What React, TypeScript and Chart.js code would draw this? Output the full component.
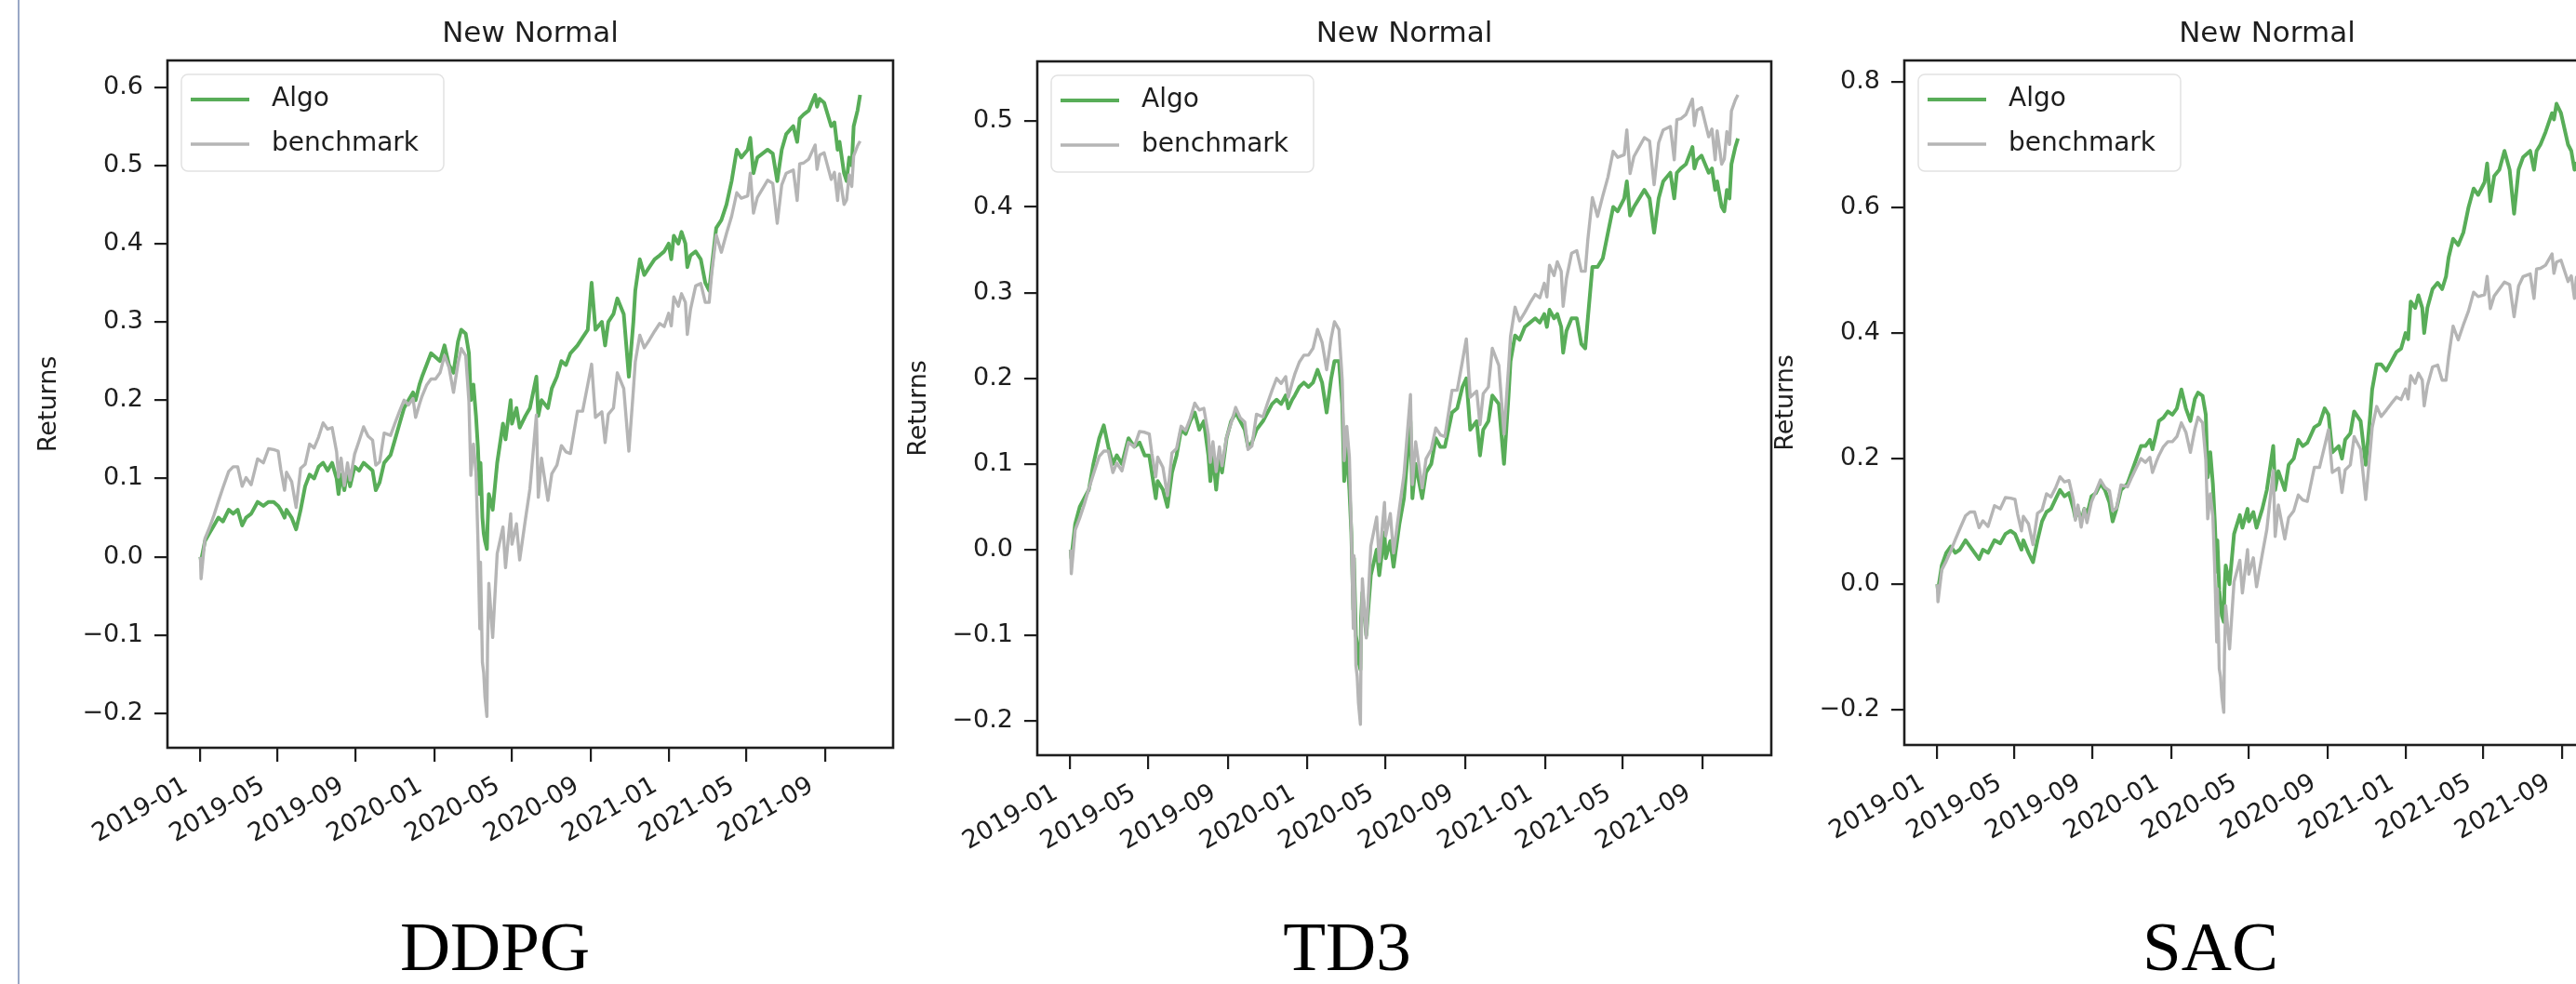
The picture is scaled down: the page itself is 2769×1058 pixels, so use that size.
import React, { useEffect, useRef } from 'react';
import { Chart, registerables } from 'chart.js';

Chart.register(...registerables);

// ---------------- data (calendar days since 2019-01-01) ----------------
const dayOffsets = [
  1, 2, 8, 15, 22, 29, 36, 45, 52, 59, 66, 72, 80, 90, 99, 107, 115, 122, 126, 132,
  135, 143, 150, 157, 164, 171, 178, 185, 192, 199, 206, 213, 216, 220, 225, 230, 234, 241, 248, 255,
  262, 269, 274, 280, 287, 297, 304, 311, 318, 325, 332, 336, 342, 346, 353, 360,
  367, 374, 381, 388, 395, 402, 407, 414, 419, 422, 426, 430, 433, 436, 437, 440, 442, 444, 447, 448,
  450, 456, 463, 472, 476, 484, 486, 493, 498, 507, 514, 524, 527, 532, 542, 548, 556, 563, 570, 577,
  588, 596, 604, 610, 616, 626, 631, 636, 644, 650, 660, 668, 675, 678, 685, 692, 700, 708, 716, 723,
  730,
  734, 738, 745, 750, 756, 759, 764, 772, 780, 787, 793, 797, 804, 812, 820, 828, 836, 843, 853, 857,
  862, 868, 876, 884, 892, 899, 906, 913, 924, 930, 934, 940, 948, 958, 961, 965, 972, 983, 988, 993,
  996, 1003, 1007, 1011, 1015, 1018, 1024, 1028,
];

const benchmark = [
  0.000, -0.028, 0.023, 0.037, 0.053, 0.071, 0.088, 0.109, 0.115, 0.115,
  0.090, 0.101, 0.092, 0.125, 0.120, 0.138, 0.137, 0.135, 0.112, 0.085,
  0.108, 0.096, 0.063, 0.113, 0.118, 0.144, 0.139, 0.153, 0.171, 0.163,
  0.165, 0.134, 0.102, 0.126, 0.091, 0.120, 0.098, 0.131, 0.148, 0.166,
  0.154, 0.149, 0.117, 0.121, 0.158, 0.155, 0.171, 0.186, 0.200, 0.194,
  0.202, 0.178, 0.195, 0.205, 0.219, 0.227,
  0.227, 0.235, 0.257, 0.242, 0.210, 0.247, 0.266, 0.257, 0.198, 0.104,
  0.144, 0.108, 0.022, -0.092, -0.007, -0.135, -0.148, -0.179, -0.204, -0.113,
  -0.034, -0.103, 0.004, 0.038, -0.014, 0.055, 0.016, 0.042, -0.004, 0.048,
  0.087, 0.181, 0.076, 0.126, 0.072, 0.106, 0.117, 0.142, 0.134, 0.132,
  0.186, 0.186, 0.220, 0.246, 0.178, 0.185, 0.146, 0.182, 0.190, 0.235,
  0.215, 0.135, 0.213, 0.249, 0.283, 0.267, 0.277, 0.288, 0.298, 0.294,
  0.311,
  0.295, 0.332, 0.320, 0.336, 0.325, 0.284, 0.316, 0.346, 0.349, 0.325,
  0.325, 0.362, 0.411, 0.389, 0.413, 0.435, 0.465, 0.458, 0.461, 0.490,
  0.439, 0.459, 0.470, 0.481, 0.477, 0.426, 0.475, 0.490, 0.494, 0.455,
  0.502, 0.503, 0.508, 0.526, 0.495, 0.513, 0.516, 0.482, 0.491, 0.455,
  0.489, 0.450, 0.456, 0.488, 0.473, 0.512, 0.525, 0.531,
];

const ddpgAlgo = [
  0.000, -0.005, 0.020, 0.030, 0.040, 0.050, 0.045, 0.060, 0.055, 0.060,
  0.040, 0.050, 0.055, 0.070, 0.065, 0.070, 0.070, 0.065, 0.060, 0.050,
  0.060, 0.050, 0.035, 0.060, 0.090, 0.105, 0.100, 0.115, 0.120, 0.110,
  0.120, 0.100, 0.080, 0.105, 0.085, 0.110, 0.090, 0.115, 0.110, 0.120,
  0.115, 0.110, 0.085, 0.095, 0.120, 0.130, 0.150, 0.170, 0.190, 0.200,
  0.210, 0.200, 0.220, 0.230, 0.245, 0.260,
  0.255, 0.250, 0.270, 0.245, 0.235, 0.275, 0.290, 0.285, 0.260, 0.200,
  0.220, 0.180, 0.140, 0.080, 0.120, 0.050, 0.030, 0.020, 0.010, 0.040,
  0.080, 0.060, 0.120, 0.170, 0.150, 0.200, 0.170, 0.190, 0.165, 0.180,
  0.190, 0.230, 0.180, 0.200, 0.190, 0.215, 0.230, 0.250, 0.245, 0.260,
  0.270, 0.280, 0.290, 0.350, 0.290, 0.300, 0.270, 0.300, 0.310, 0.330,
  0.310, 0.230, 0.300, 0.340, 0.380, 0.360, 0.370, 0.380, 0.385, 0.390,
  0.400,
  0.380, 0.410, 0.400, 0.415, 0.400, 0.370, 0.385, 0.390, 0.380, 0.350,
  0.340, 0.370, 0.420, 0.430, 0.450, 0.480, 0.520, 0.510, 0.520, 0.535,
  0.490, 0.510, 0.515, 0.520, 0.515, 0.480, 0.520, 0.540, 0.550, 0.530,
  0.560, 0.565, 0.570, 0.590, 0.575, 0.585, 0.580, 0.550, 0.555, 0.520,
  0.530, 0.490, 0.480, 0.510, 0.500, 0.550, 0.570, 0.590,
];

const td3Algo = [
  0.000, -0.010, 0.030, 0.050, 0.060, 0.070, 0.100, 0.130, 0.145, 0.120,
  0.100, 0.110, 0.100, 0.130, 0.120, 0.125, 0.110, 0.110, 0.090, 0.060,
  0.080, 0.070, 0.050, 0.090, 0.110, 0.140, 0.135, 0.150, 0.160, 0.140,
  0.150, 0.110, 0.080, 0.110, 0.070, 0.110, 0.090, 0.130, 0.150, 0.160,
  0.150, 0.140, 0.120, 0.125, 0.140, 0.150, 0.160, 0.170, 0.175, 0.170,
  0.180, 0.165, 0.175, 0.180, 0.190, 0.195,
  0.190, 0.195, 0.210, 0.195, 0.160, 0.200, 0.220, 0.220, 0.170, 0.080,
  0.120, 0.070, 0.020, -0.070, -0.010, -0.100, -0.110, -0.130, -0.140, -0.080,
  -0.050, -0.100, -0.030, 0.000, -0.030, 0.020, -0.010, 0.010, -0.020, 0.030,
  0.060, 0.150, 0.060, 0.100, 0.060, 0.090, 0.100, 0.130, 0.120, 0.120,
  0.160, 0.165, 0.190, 0.200, 0.140, 0.150, 0.110, 0.140, 0.150, 0.180,
  0.170, 0.100, 0.180, 0.220, 0.250, 0.245, 0.260, 0.265, 0.270, 0.265,
  0.275,
  0.260, 0.280, 0.270, 0.275, 0.260, 0.230, 0.255, 0.270, 0.270, 0.240,
  0.235, 0.270, 0.330, 0.330, 0.340, 0.370, 0.400, 0.395, 0.410, 0.430,
  0.390, 0.400, 0.410, 0.420, 0.410, 0.370, 0.410, 0.430, 0.440, 0.410,
  0.440, 0.445, 0.450, 0.470, 0.445, 0.455, 0.460, 0.440, 0.445, 0.420,
  0.430, 0.400, 0.395, 0.420, 0.410, 0.450, 0.470, 0.480,
];

const sacAlgo = [
  0.000, -0.010, 0.030, 0.050, 0.060, 0.050, 0.055, 0.070, 0.060, 0.050,
  0.040, 0.055, 0.050, 0.070, 0.065, 0.080, 0.085, 0.080, 0.070, 0.055,
  0.070, 0.050, 0.035, 0.070, 0.100, 0.115, 0.120, 0.135, 0.150, 0.140,
  0.145, 0.120, 0.105, 0.120, 0.100, 0.120, 0.110, 0.140, 0.145, 0.160,
  0.150, 0.130, 0.100, 0.120, 0.150, 0.160, 0.180, 0.200, 0.220, 0.220,
  0.230, 0.215, 0.240, 0.260, 0.265, 0.275,
  0.270, 0.280, 0.310, 0.280, 0.260, 0.295, 0.305, 0.300, 0.270, 0.170,
  0.210, 0.160, 0.100, 0.020, 0.070, -0.010, -0.030, -0.050, -0.060, -0.010,
  0.030, 0.000, 0.080, 0.110, 0.090, 0.120, 0.100, 0.115, 0.090, 0.120,
  0.150, 0.220, 0.150, 0.180, 0.150, 0.190, 0.200, 0.230, 0.220, 0.225,
  0.250, 0.255, 0.280, 0.270, 0.210, 0.220, 0.200, 0.230, 0.240, 0.275,
  0.260, 0.190, 0.270, 0.310, 0.350, 0.350, 0.340, 0.355, 0.370, 0.375,
  0.400,
  0.390, 0.450, 0.440, 0.460, 0.440, 0.400, 0.440, 0.470, 0.480, 0.470,
  0.490, 0.520, 0.550, 0.540, 0.560, 0.600, 0.630, 0.620, 0.640, 0.670,
  0.610, 0.650, 0.660, 0.690, 0.660, 0.590, 0.660, 0.680, 0.690, 0.660,
  0.690, 0.700, 0.720, 0.750, 0.740, 0.765, 0.750, 0.700, 0.690, 0.660,
  0.670, 0.630, 0.620, 0.660, 0.650, 0.690, 0.710, 0.720,
];

const xTickLabels = ['2019-01', '2019-05', '2019-09', '2020-01', '2020-05', '2020-09', '2021-01', '2021-05', '2021-09'];
const yTicksDDPG = [-0.2, -0.1, 0.0, 0.1, 0.2, 0.3, 0.4, 0.5, 0.6];
const yTicksTD3 = [-0.2, -0.1, 0.0, 0.1, 0.2, 0.3, 0.4, 0.5];
const yTicksSAC = [-0.2, 0.0, 0.2, 0.4, 0.6, 0.8];
const yRangeDDPG = [-0.244, 0.634];
const yRangeTD3 = [-0.240, 0.570];
const yRangeSAC = [-0.256, 0.834];
const algoNames = ['DDPG', 'TD3', 'SAC'];
const seriesLabels = ['Algo', 'benchmark'];
const chartTitle = 'New Normal';
const yAxisTitle = 'Returns';

// ---------------- styling / layout ----------------
const INK = '#1e1e1e';
const FONT = '"DejaVu Sans", Verdana, sans-serif';
const GREEN = '#58ad58';
const GREY = '#b5b5b5';
const AXIS_W = 147;
const X_AXIS_H = 130;
const RIGHT_PAD = 12;

const panelLayout = [
  { left: 180, top: 65, width: 780, bottom: 804, labelX: 532 },
  { left: 1115, top: 66, width: 789, bottom: 812, labelX: 1448 },
  { left: 2047, top: 65, width: 780, bottom: 801, labelX: 2376 },
];
const panelSeries = [ddpgAlgo, td3Algo, sacAlgo];
const panelTicks = [yTicksDDPG, yTicksTD3, yTicksSAC];
const panelRanges = [yRangeDDPG, yRangeTD3, yRangeSAC];

function tickDay(label: string): number {
  const [y, m] = label.split('-').map(Number);
  return (Date.UTC(y, m - 1, 1) - Date.UTC(2019, 0, 1)) / 86400000;
}

function fmtTick(v: number): string {
  const s = Math.abs(v).toFixed(1);
  return v < -1e-9 ? '\u2212' + s : s;
}

const framePlugin = {
  id: 'axesFrame',
  afterDatasetsDraw(chart: any) {
    const { ctx, chartArea: a } = chart;
    ctx.save();
    ctx.strokeStyle = INK;
    ctx.lineWidth = 2.6;
    ctx.strokeRect(a.left, a.top, a.right - a.left, a.bottom - a.top);
    ctx.restore();
  },
};

function roundedRect(ctx: CanvasRenderingContext2D, x: number, y: number, w: number, h: number, r: number) {
  ctx.beginPath();
  ctx.moveTo(x + r, y);
  ctx.arcTo(x + w, y, x + w, y + h, r);
  ctx.arcTo(x + w, y + h, x, y + h, r);
  ctx.arcTo(x, y + h, x, y, r);
  ctx.arcTo(x, y, x + w, y, r);
  ctx.closePath();
}

const boxLegendPlugin = {
  id: 'boxLegend',
  afterDatasetsDraw(chart: any, _args: any, opts: any) {
    const { ctx, chartArea: a } = chart;
    ctx.save();
    roundedRect(ctx, a.left + opts.boxX, a.top + opts.boxY, opts.boxW, opts.boxH, 7);
    ctx.fillStyle = 'rgba(255,255,255,0.8)';
    ctx.fill();
    ctx.strokeStyle = '#e2e2e2';
    ctx.lineWidth = 1.5;
    ctx.stroke();
    ctx.font = `${opts.fontSize}px ${FONT}`;
    ctx.textBaseline = 'middle';
    ctx.textAlign = 'left';
    chart.data.datasets.forEach((ds: any, i: number) => {
      const cy = a.top + opts.rowY + i * opts.rowGap;
      ctx.beginPath();
      ctx.strokeStyle = ds.borderColor;
      ctx.lineWidth = ds.borderWidth;
      ctx.moveTo(a.left + opts.lineX0, cy);
      ctx.lineTo(a.left + opts.lineX1, cy);
      ctx.stroke();
      ctx.fillStyle = INK;
      ctx.fillText(ds.label, a.left + opts.textX, cy);
    });
    ctx.restore();
  },
};

function Panel({ index }: { index: number }) {
  const ref = useRef<HTMLCanvasElement>(null);
  const lay = panelLayout[index];
  const cw = AXIS_W + lay.width + RIGHT_PAD;
  const ch = lay.bottom + X_AXIS_H;

  useEffect(() => {
    const canvas = ref.current;
    if (!canvas) return;
    const algo = panelSeries[index];
    const yTicks = panelTicks[index];
    const [yMin, yMax] = panelRanges[index];
    const first = dayOffsets[0];
    const last = dayOffsets[dayOffsets.length - 1];
    const margin = 0.05 * (last - first);
    const tickFont = { family: FONT, size: 27, weight: 'normal' as const, lineHeight: 1.2 };
    const titleLH = 31 * 1.2;
    const titleTopPad = 37 - titleLH / 2;

    const chart = new Chart(canvas, {
      type: 'line',
      data: {
        datasets: [
          {
            label: seriesLabels[0],
            data: dayOffsets.map((d, i) => ({ x: d, y: algo[i] })),
            borderColor: GREEN,
            backgroundColor: GREEN,
            borderWidth: 4,
            pointRadius: 0,
            borderJoinStyle: 'round',
            tension: 0,
            order: 1,
          },
          {
            label: seriesLabels[1],
            data: dayOffsets.map((d, i) => ({ x: d, y: benchmark[i] })),
            borderColor: GREY,
            backgroundColor: GREY,
            borderWidth: 3.4,
            pointRadius: 0,
            borderJoinStyle: 'round',
            tension: 0,
            order: 0,
          },
        ],
      },
      options: {
        responsive: false,
        animation: false,
        devicePixelRatio: 1,
        events: [],
        layout: { padding: { left: 0, top: 0, right: RIGHT_PAD, bottom: 0 } },
        plugins: {
          legend: { display: false },
          tooltip: { enabled: false },
          title: {
            display: true,
            text: chartTitle,
            fullSize: false,
            color: INK,
            font: { family: FONT, size: 31, weight: 'normal', lineHeight: 1.2 },
            padding: { top: titleTopPad, bottom: lay.top - titleTopPad - titleLH },
          },
          boxLegend: {
            boxX: 15, boxY: 15, boxW: 282, boxH: 104,
            rowY: 42, rowGap: 48, lineX0: 25, lineX1: 88, textX: 112, fontSize: 28,
          },
        } as any,
        scales: {
          x: {
            type: 'linear',
            min: first - margin,
            max: last + margin,
            bounds: 'data',
            afterBuildTicks: (s: any) => {
              s.ticks = xTickLabels.map((l) => ({ value: tickDay(l) }));
            },
            afterFit: (s: any) => {
              s.height = X_AXIS_H;
            },
            grid: { display: true, drawOnChartArea: false, drawTicks: true, tickLength: 15, color: INK, lineWidth: 2.2 },
            border: { display: false },
            ticks: {
              autoSkip: false,
              minRotation: 30,
              maxRotation: 30,
              padding: 10,
              labelOffset: -15,
              color: INK,
              font: tickFont,
              callback: (_v: any, i: number) => xTickLabels[i],
            },
          },
          y: {
            type: 'linear',
            min: yMin,
            max: yMax,
            bounds: 'data',
            afterBuildTicks: (s: any) => {
              s.ticks = yTicks.map((v) => ({ value: v }));
            },
            afterFit: (s: any) => {
              s.width = AXIS_W;
            },
            grid: { display: true, drawOnChartArea: false, drawTicks: true, tickLength: 14, color: INK, lineWidth: 2.2 },
            border: { display: false },
            ticks: {
              autoSkip: false,
              padding: 12,
              color: INK,
              font: tickFont,
              callback: (v: any) => fmtTick(Number(v)),
            },
            title: {
              display: true,
              text: yAxisTitle,
              color: INK,
              font: { family: FONT, size: 27, weight: 'normal', lineHeight: 1.2 },
              padding: { top: 4, bottom: 0 },
            },
          },
        },
      } as any,
      plugins: [framePlugin, boxLegendPlugin],
    });
    return () => chart.destroy();
  }, [index]);

  return (
    <canvas
      ref={ref}
      width={cw}
      height={ch}
      style={{ position: 'absolute', left: lay.left - AXIS_W, top: 0, width: cw, height: ch }}
    />
  );
}

export default function App() {
  return (
    <div
      style={{
        position: 'fixed',
        left: 0,
        top: 0,
        width: 2769,
        height: 1058,
        overflow: 'hidden',
        background: '#ffffff',
      }}
    >
      <div style={{ position: 'absolute', left: 19, top: 0, width: 2, height: 1058, background: '#9aa8c6' }} />
      {panelLayout.map((_, i) => (
        <Panel key={i} index={i} />
      ))}
      {panelLayout.map((lay, i) => (
        <div
          key={'lbl' + i}
          style={{
            position: 'absolute',
            left: lay.labelX - 250,
            width: 500,
            top: 980,
            textAlign: 'center',
            fontFamily: '"Liberation Serif", "Times New Roman", serif',
            fontSize: 75,
            lineHeight: '75px',
            color: '#000',
          }}
        >
          {algoNames[i]}
        </div>
      ))}
    </div>
  );
}
